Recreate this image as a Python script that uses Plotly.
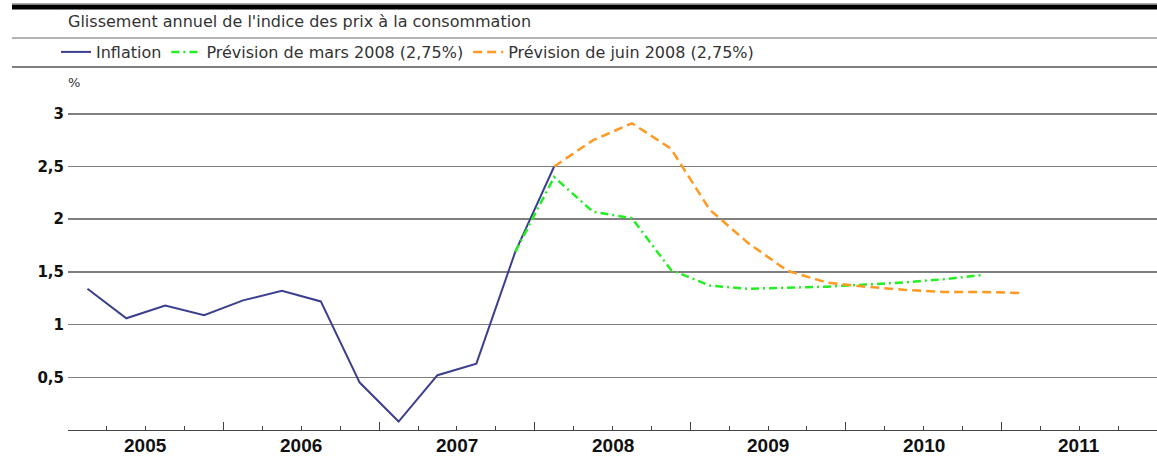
import plotly.graph_objects as go

# ---------------- data ----------------
inflation_q = ["2005T1", "2005T2", "2005T3", "2005T4", "2006T1", "2006T2", "2006T3",
               "2006T4", "2007T1", "2007T2", "2007T3", "2007T4", "2008T1"]
inflation_v = [1.34, 1.06, 1.18, 1.09, 1.23, 1.32, 1.22, 0.45, 0.08, 0.52, 0.63, 1.69, 2.50]

mars_q = ["2007T4", "2008T1", "2008T2", "2008T3", "2008T4", "2009T1", "2009T2",
          "2009T3", "2009T4", "2010T1", "2010T2", "2010T3", "2010T4"]
mars_v = [1.69, 2.40, 2.07, 2.01, 1.52, 1.37, 1.34, 1.35, 1.36, 1.38, 1.40, 1.43, 1.47]

juin_q = ["2008T1", "2008T2", "2008T3", "2008T4", "2009T1", "2009T2", "2009T3",
          "2009T4", "2010T1", "2010T2", "2010T3", "2010T4", "2011T1"]
juin_v = [2.50, 2.75, 2.91, 2.67, 2.09, 1.77, 1.51, 1.40, 1.36, 1.33, 1.31, 1.31, 1.30]

years = [2005, 2006, 2007, 2008, 2009, 2010, 2011]
y_ticks = [0.5, 1, 1.5, 2, 2.5, 3]
y_ticktext = ["0,5", "1", "1,5", "2", "2,5", "3"]

title_text = "Glissement annuel de l'indice des prix à la consommation"
names = ["Inflation", "Prévision de mars 2008 (2,75%)", "Prévision de juin 2008 (2,75%)"]


def qpos(q):
    y, t = q.split("T")
    return int(y) + (int(t) - 0.5) / 4.0


# ---------------- layout geometry (pixels) ----------------
W, H = 1157, 457
L, R, T, B = 68, 0, 93, 27
PW, PH = W - L - R, H - T - B


def px(xp):
    return (xp - L) / PW


def py(yp):
    return (H - B - yp) / PH


fig = go.Figure()
fig.add_trace(go.Scatter(x=[qpos(q) for q in inflation_q], y=inflation_v, name=names[0],
                         mode="lines", line=dict(color="#3b3f8f", width=2)))
fig.add_trace(go.Scatter(x=[qpos(q) for q in mars_q], y=mars_v, name=names[1],
                         mode="lines", line=dict(color="#22ee22", width=2.5,
                                                 dash="8px,4px,2px,4px")))
fig.add_trace(go.Scatter(x=[qpos(q) for q in juin_q], y=juin_v, name=names[2],
                         mode="lines", line=dict(color="#ff9922", width=2.5, dash="9px,5px")))

text_font = dict(family="DejaVu Sans", size=16, color="#333333")
ytick_font = dict(family="DejaVu Sans", size=15, color="#111111", weight="bold")
xtick_font = dict(family="Liberation Sans", size=19, color="#111111", weight="bold")

fig.update_layout(
    width=W, height=H,
    margin=dict(l=L, r=R, t=T, b=B),
    paper_bgcolor="white", plot_bgcolor="white",
    showlegend=True,
    legend=dict(orientation="h", x=px(56), xanchor="left", y=py(52), yanchor="middle",
                font=text_font, bgcolor="rgba(0,0,0,0)", itemwidth=30,
                tracegroupgap=0, traceorder="normal"),
    xaxis=dict(range=[2005, 2012], showgrid=False, zeroline=False,
               showline=True, linecolor="#444444", linewidth=1,
               tickvals=years + [2012], ticks="inside", ticklen=8, tickcolor="#444444",
               showticklabels=False,
               minor=dict(tickvals=[y + q / 4 for y in years for q in (1, 2, 3)],
                          ticks="inside", ticklen=4, tickcolor="#444444")),
    yaxis=dict(range=[0, PH / 105.4], showgrid=True, gridcolor="#7f7f7f",
               gridwidth=1.5, zeroline=False, showline=False,
               tickvals=y_ticks, ticktext=y_ticktext, ticks="", tickfont=ytick_font,
               ticklabelstandoff=3),
)

# year labels centred in each year
for yr in years:
    fig.add_annotation(x=yr + 0.5, y=0, xref="x", yref="paper", yanchor="top",
                       yshift=-3, text=str(yr), showarrow=False, font=xtick_font)

# title and unit
fig.add_annotation(x=px(66), y=py(22), xref="paper", yref="paper", xanchor="left",
                   yanchor="middle", text=title_text, showarrow=False, font=text_font)
fig.add_annotation(x=px(66), y=py(82), xref="paper", yref="paper", xanchor="left",
                   yanchor="middle", text="%", showarrow=False,
                   font=dict(family="DejaVu Sans", size=13, color="#333333"))

# header rules
fig.add_shape(type="line", xref="paper", yref="paper", x0=px(12), x1=px(1157),
              y0=py(3.5), y1=py(3.5), line=dict(color="#aaaaaa", width=1))
fig.add_shape(type="line", xref="paper", yref="paper", x0=px(12), x1=px(1157),
              y0=py(7), y1=py(7), line=dict(color="#000000", width=5))
fig.add_shape(type="line", xref="paper", yref="paper", x0=px(12), x1=px(1157),
              y0=py(38), y1=py(38), line=dict(color="#999999", width=1.5))
fig.add_shape(type="line", xref="paper", yref="paper", x0=px(12), x1=px(1157),
              y0=py(67), y1=py(67), line=dict(color="#555555", width=1.5))

fig.write_html("out.html",
               config={"displayModeBar": False, "staticPlot": True},
               post_script="document.body.style.margin='0px';"
                           "document.body.style.overflow='hidden';")
